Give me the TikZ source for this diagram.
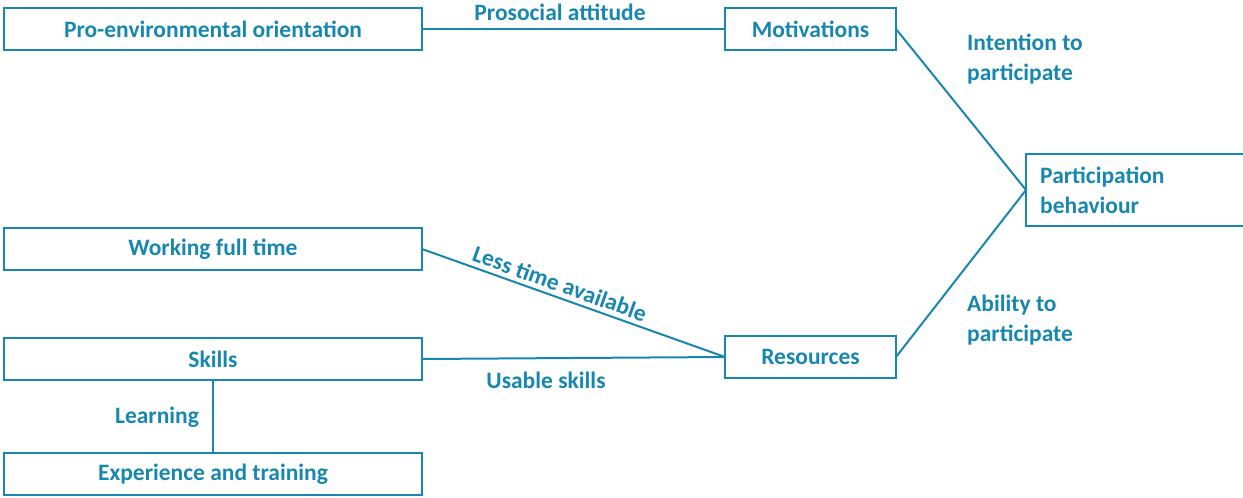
\documentclass[tikz,border=0pt]{standalone}
\usepackage{fontspec}
\setmainfont{Carlito}
\definecolor{teal1}{HTML}{1887B0}
\begin{document}
\begin{tikzpicture}[x=1pt,y=-1pt,
  every node/.style={font=\fontsize{23.5}{30}\selectfont\bfseries, text=teal1},
  box/.style={draw=teal1, line width=2pt, inner sep=0pt, outer sep=0pt, align=center},
  link/.style={draw=teal1, line width=2pt},
  lbl/.style={inner sep=0pt, align=left}]
\useasboundingbox (0,0) rectangle (1243,498);
\node[box, minimum width=418pt, minimum height=42pt] (pro) at (213,29) {Pro-environmental orientation};
\node[box, minimum width=171pt, minimum height=42pt] (mot) at (810.5,29) {Motivations};
\node[box, minimum width=418pt, minimum height=42pt] (work) at (213,249) {Working full time};
\node[box, minimum width=418pt, minimum height=42pt] (skills) at (213,359) {Skills};
\node[box, minimum width=418pt, minimum height=42pt] (exp) at (213,474) {Experience and training};
\node[box, minimum width=171pt, minimum height=42pt] (res) at (810.5,357) {Resources};
\node[box, minimum width=220pt, minimum height=72pt] (part) at (1136,190) {};
\node[lbl, anchor=west] (parttxt) at (1040,190) {Participation\\behaviour};
\draw[link] (pro.east) -- (mot.west);
\draw[link] (mot.east) -- (part.west);
\draw[link] (res.east) -- (part.west);
\draw[link] (work.east) -- node[sloped, above=1pt, pos=0.44] (lta) {Less time available} (res.west);
\draw[link] (skills.east) -- (res.west);
\draw[link] (skills.south) -- (exp.north);
\node (pa) at (560,12) {Prosocial attitude};
\node (us) at (546,380) {Usable skills};
\node (learn) at (157,417) {Learning};
\node[lbl, anchor=west] (int) at (967,59) {Intention to\\participate};
\node[lbl, anchor=west] (abl) at (967,320) {Ability to\\participate};
\end{tikzpicture}
\end{document}
